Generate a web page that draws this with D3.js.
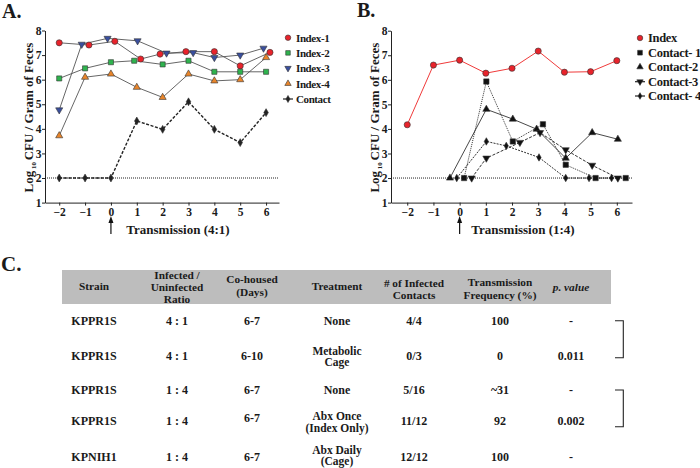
<!DOCTYPE html>
<html><head><meta charset="utf-8">
<script src="https://cdn.jsdelivr.net/npm/d3@7"></script>
<style>
body{margin:0;background:#fff}
svg{display:block}
text{font-family:"Liberation Serif","Times New Roman",serif;font-weight:bold;fill:#1a1a1a}
</style>
</head><body>
<svg id="c" width="700" height="468"></svg>
<script>
// ---------- Panel A data (Transmission 4:1) ----------
const xTicks = [-2, -1, 0, 1, 2, 3, 4, 5, 6];
const yTicks = [1, 2, 3, 4, 5, 6, 7, 8];
const a_index1Days = [-2, -0.85, 0.15, 1.15, 1.9, 2.9, 4, 5, 6.15];
const a_index1Vals = [7.5, 7.41, 7.56, 6.84, 7.04, 7.14, 7.14, 6.56, 7.11];
const a_index2Days = [-2, -1, 0, 0.9, 2, 3, 4, 5, 6];
const a_index2Vals = [6.05, 6.46, 6.71, 6.77, 6.62, 6.77, 6.32, 6.32, 6.32];
const a_index3Days = [-2, -1.13, -0.13, 1.03, 2.15, 3.18, 4, 5, 5.9];
const a_index3Vals = [4.77, 7.44, 7.68, 7.58, 7.08, 7.1, 6.9, 7.0, 7.28];
const a_index4Days = [-2, -1, 0, 1, 2, 3, 4, 5, 6];
const a_index4Vals = [3.72, 6.1, 6.23, 5.69, 5.28, 6.23, 5.95, 6.0, 6.9];
const a_contactDays = [-2, -1, 0, 1, 2, 3, 4, 5, 6];
const a_contactVals = [2, 2, 2, 4.32, 3.98, 5.1, 3.98, 3.44, 4.66];

// ---------- Panel B data (Transmission 1:4) ----------
const b_indexDays = [-2, -1, 0, 1, 2, 3, 4, 5, 6];
const b_indexVals = [4.17, 6.6, 6.8, 6.27, 6.47, 7.17, 6.31, 6.33, 6.78];
const b_c1Days = [0.17, 1.02, 2.03, 3.18, 4.05, 5.19, 6.34];
const b_c1Vals = [2, 5.93, 3.49, 4.19, 2.54, 2, 2];
const b_c2Days = [-0.37, 1.02, 2.03, 2.94, 4.05, 5.06, 6.04];
const b_c2Vals = [2, 4.8, 4.4, 3.99, 2.81, 3.85, 3.58];
const b_c3Days = [0.46, 1.02, 2.3, 3.07, 4.05, 5.06, 6.04];
const b_c3Vals = [2, 2.81, 3.45, 3.85, 3.15, 2.52, 2];
const b_c4Days = [-0.11, 1.02, 1.78, 3.03, 4.05, 4.94, 5.8];
const b_c4Vals = [2, 3.49, 3.31, 2.84, 2, 2, 2];

// ---------- Panel C table ----------
const colHeaders = [["Strain"], ["Infected /", "Uninfected", "Ratio"], ["Co-housed", "(Days)"], ["Treatment"],
                    ["# of Infected", "Contacts"], ["Transmission", "Frequency (%)"], ["p. value"]];
const strains = ["KPPR1S", "KPPR1S", "KPPR1S", "KPPR1S", "KPNIH1"];
const ratios = ["4 : 1", "4 : 1", "1 : 4", "1 : 4", "1 : 4"];
const cohoused = ["6-7", "6-10", "6-7", "6-7", "6-7"];
const treatments = [["None"], ["Metabolic", "Cage"], ["None"], ["Abx Once", "(Index Only)"], ["Abx Daily", "(Cage)"]];
const infectedContacts = ["4/4", "0/3", "5/16", "11/12", "12/12"];
const transFreq = ["100", "0", "~31", "92", "100"];
const pValues = ["-", "0.011", "-", "0.002", "-"];

const svg = d3.select("#c");

function sym(type, size) {
  const map = {circle: d3.symbolCircle, square: d3.symbolSquare, up: d3.symbolTriangle, down: d3.symbolTriangle, diamond: d3.symbolDiamond};
  return d3.symbol().type(map[type]).size(size)();
}
function drawMarker(g, type, cx, cy, size, fill, stroke) {
  g.append("path").attr("d", sym(type, size))
    .attr("transform", `translate(${cx},${cy})` + (type === "down" ? " rotate(180)" : ""))
    .attr("fill", fill).attr("stroke", stroke).attr("stroke-width", 0.6);
}

function drawAxes(x, y, axisX, xlabel, ylabX, xlabCx) {
  const g = svg.append("g");
  const yb = y.range()[0];
  g.append("line").attr("x1", x.range()[0]).attr("x2", x.range()[1])
    .attr("y1", y(2)).attr("y2", y(2))
    .attr("stroke", "#222").attr("stroke-width", 1).attr("stroke-dasharray", "1,1");
  const ax = g.append("g").attr("transform", `translate(0,${yb})`)
    .call(d3.axisBottom(x).tickValues(xTicks).tickFormat(d3.format("d")).tickSize(3).tickSizeOuter(0).tickPadding(2));
  const ay = g.append("g").attr("transform", `translate(${axisX},0)`)
    .call(d3.axisLeft(y).tickValues(yTicks).tickFormat(d3.format("d")).tickSize(3).tickSizeOuter(0).tickPadding(0.5));
  [ax, ay].forEach(a => {
    a.selectAll("text").style("font-size", "11.5px").attr("fill", "#1a1a1a");
    a.selectAll("path,line").attr("stroke", "#222");
  });
  g.append("text").attr("x", xlabCx).attr("y", 234).attr("text-anchor", "middle")
    .style("font-size", "13px").text(xlabel);
  const x0 = x(0);
  g.append("line").attr("x1", x0).attr("x2", x0).attr("y1", 234).attr("y2", 221)
    .attr("stroke", "#111").attr("stroke-width", 1.2);
  g.append("path").attr("d", `M${x0 - 2.5},${223} L${x0},${216} L${x0 + 2.5},${223} Z`).attr("fill", "#111");
  const yl = g.append("text").attr("transform", `translate(${ylabX},${(y.range()[0] + y.range()[1]) / 2 + 1}) rotate(-90)`)
    .attr("text-anchor", "middle").style("font-size", "13px");
  yl.append("tspan").text("Log");
  yl.append("tspan").attr("dy", 3).style("font-size", "7px").text(" 10 ");
  yl.append("tspan").attr("dy", -3).text("CFU / Gram of Feces");
}

// ---------------- Panel A ----------------
const xA = d3.scaleLinear().domain([-2.55, 6.5]).range([45, 279]);
const yA = d3.scaleLinear().domain([1, 8]).range([202.6, 30.5]);
drawAxes(xA, yA, 45, "Transmission (4:1)", 33, 178);

const seriesA = [
  {name: "Index-1", days: a_index1Days, vals: a_index1Vals, type: "circle", size: 30, fill: "#e8232b", line: "#555", dash: null, lw: 0.9},
  {name: "Index-2", days: a_index2Days, vals: a_index2Vals, type: "square", size: 26, fill: "#2fb34e", line: "#555", dash: null, lw: 0.9},
  {name: "Index-3", days: a_index3Days, vals: a_index3Vals, type: "down", size: 22, fill: "#3a4f9e", line: "#555", dash: null, lw: 0.9},
  {name: "Index-4", days: a_index4Days, vals: a_index4Vals, type: "up", size: 22, fill: "#e8852b", line: "#555", dash: null, lw: 0.9},
  {name: "Contact", days: a_contactDays, vals: a_contactVals, type: "diamond", size: 18, fill: "#222", line: "#222", dash: "3,1.6", lw: 1.4}
];
const lineA = d3.line().x(d => xA(d[0])).y(d => yA(d[1]));
const gA = svg.append("g");
seriesA.forEach(s => {
  const pts = s.days.map((d, i) => [d, s.vals[i]]);
  gA.append("path").attr("d", lineA(pts)).attr("fill", "none").attr("stroke", s.line)
    .attr("stroke-width", s.lw).attr("stroke-dasharray", s.dash);
});
seriesA.forEach(s => {
  s.days.forEach((d, i) => drawMarker(gA, s.type, xA(d), yA(s.vals[i]), s.size, s.fill, "#333"));
});
const legAy = [37.7, 52.9, 68.2, 83.6, 99];
seriesA.forEach((s, i) => {
  if (s.name === "Contact") {
    gA.append("line").attr("x1", 283).attr("x2", 293).attr("y1", legAy[i]).attr("y2", legAy[i]).attr("stroke", "#222").attr("stroke-width", 1.2);
  }
  drawMarker(gA, s.type, 288, legAy[i], s.size * 0.8, s.fill, "#333");
  gA.append("text").attr("x", 296).attr("y", legAy[i]).attr("dominant-baseline", "central")
    .style("font-size", "11px").style("letter-spacing", "-0.4px").text(s.name);
});

// ---------------- Panel B ----------------
const xB = d3.scaleLinear().domain([-2.62, 6.58]).range([391, 632]);
const yB = d3.scaleLinear().domain([1, 8]).range([202.6, 30.7]);
drawAxes(xB, yB, 391, "Transmission (1:4)", 379, 523);

const seriesB = [
  {name: "Index", days: b_indexDays, vals: b_indexVals, type: "circle", size: 30, fill: "#e8232b", line: "#f03a3a", dash: null, lw: 1},
  {name: "Contact- 1", days: b_c1Days, vals: b_c1Vals, type: "square", size: 28, fill: "#111", line: "#333", dash: "1,1", lw: 1},
  {name: "Contact-2", days: b_c2Days, vals: b_c2Vals, type: "up", size: 22, fill: "#111", line: "#333", dash: null, lw: 0.9},
  {name: "Contact-3", days: b_c3Days, vals: b_c3Vals, type: "down", size: 22, fill: "#111", line: "#333", dash: "3,1.5", lw: 1},
  {name: "Contact- 4", days: b_c4Days, vals: b_c4Vals, type: "diamond", size: 16, fill: "#111", line: "#333", dash: "2,1.2", lw: 1}
];
const lineB = d3.line().x(d => xB(d[0])).y(d => yB(d[1]));
const gB = svg.append("g");
seriesB.forEach(s => {
  const pts = s.days.map((d, i) => [d, s.vals[i]]);
  gB.append("path").attr("d", lineB(pts)).attr("fill", "none").attr("stroke", s.line)
    .attr("stroke-width", s.lw).attr("stroke-dasharray", s.dash);
});
seriesB.forEach(s => {
  s.days.forEach((d, i) => drawMarker(gB, s.type, xB(d), yB(s.vals[i]), s.size, s.fill, "#333"));
});
const legBy = [38, 52.7, 67, 81.7, 96];
seriesB.forEach((s, i) => {
  if (i >= 3) {
    gB.append("line").attr("x1", 635).attr("x2", 645).attr("y1", legBy[i]).attr("y2", legBy[i]).attr("stroke", "#222").attr("stroke-width", 1.2);
  }
  drawMarker(gB, s.type, 640, legBy[i], s.size * 0.8, s.fill, "#333");
  gB.append("text").attr("x", 648).attr("y", legBy[i]).attr("dominant-baseline", "central")
    .style("font-size", "12.5px").style("letter-spacing", "-0.3px").text(s.name);
});

// ---------------- Panel letters ----------------
svg.append("text").attr("x", 2).attr("y", 18).style("font-size", "20px").text("A.");
svg.append("text").attr("x", 357).attr("y", 17).style("font-size", "20px").text("B.");
svg.append("text").attr("x", 1).attr("y", 271).style("font-size", "21px").text("C.");

// ---------------- Panel C table ----------------
const gC = svg.append("g");
const colX = [94, 177, 252, 337, 414, 500, 571];
gC.append("rect").attr("x", 62).attr("y", 270).attr("width", 549).attr("height", 34).attr("fill", "#bdbdbd");

function multiCell(x, yFirst, lines, gap, fs, opts) {
  lines.forEach((s, k) => {
    const t = gC.append("text").attr("x", x).attr("y", yFirst + k * gap).attr("text-anchor", "middle")
      .attr("dominant-baseline", "central").style("font-size", fs + "px").text(s);
    if (opts && opts.italic) t.style("font-style", "italic");
    if (opts && opts.fill) t.attr("fill", opts.fill);
  });
}
const headerTop = [286, 274.6, 279, 286, 282.8, 282.4, 286.5];
const headerGap = [0, 12.1, 13, 0, 12.2, 12.2, 0];
colHeaders.forEach((lines, c) => {
  multiCell(colX[c], headerTop[c], lines, headerGap[c], 11.3, {italic: c === 6, fill: "#2a2a2a"});
});

const rowY = [320.7, 356, 390, 421, 456.7];
const cohousedY = [320.7, 356, 390, 417.7, 456.7];
function cell(x, y, t) { multiCell(x, y, [t], 0, 12); }
strains.forEach((t, r) => cell(colX[0], rowY[r], t));
ratios.forEach((t, r) => cell(colX[1], rowY[r], t));
cohoused.forEach((t, r) => cell(colX[2], cohousedY[r], t));
treatments.forEach((lines, r) => {
  if (lines.length === 1) cell(colX[3], rowY[r], lines[0]);
  else {
    const top = r === 1 ? rowY[r] - 5.4 : rowY[r] - 4.7 - (r === 4 ? 2 : 0);
    multiCell(colX[3], top, lines, 11.2, 11.5);
  }
});
infectedContacts.forEach((t, r) => cell(colX[4], rowY[r], t));
transFreq.forEach((t, r) => cell(colX[5], rowY[r], t));
pValues.forEach((t, r) => cell(colX[6], rowY[r], t));

[[0, 1], [2, 3]].forEach(([a, b]) => {
  const y1 = rowY[a], y2 = rowY[b] + (b === 1 ? 1.7 : 5.7);
  gC.append("path").attr("d", `M615,${y1} H623.3 V${y2} H615`).attr("fill", "none")
    .attr("stroke", "#222").attr("stroke-width", 1.1);
});
</script>
</body></html>
